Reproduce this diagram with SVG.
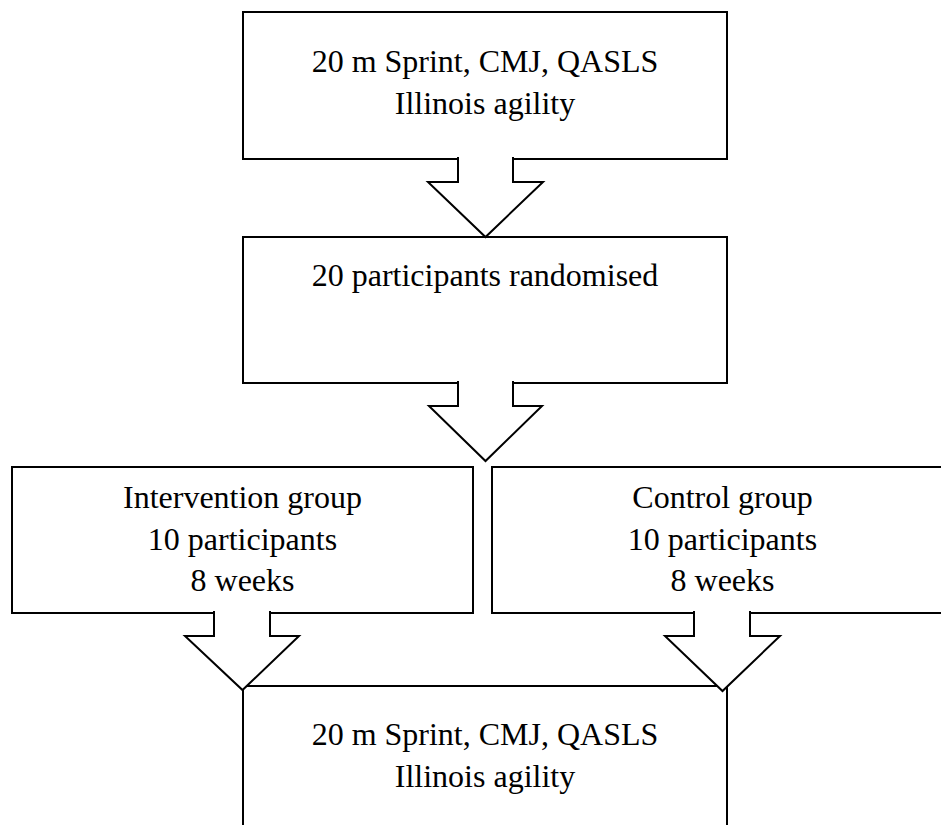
<svg xmlns="http://www.w3.org/2000/svg" width="941" height="825" viewBox="0 0 941 825">
  <style>
    .box { fill: #ffffff; stroke: #000000; stroke-width: 2; }
    .arrow { fill: #ffffff; stroke: #000000; stroke-width: 2; stroke-linejoin: miter; }
    .label { font-family: "Liberation Serif", "Times New Roman", serif; font-size: 32px; fill: #000000; text-anchor: middle; }
  </style>
  <rect x="0" y="0" width="941" height="825" fill="#ffffff"/>
  <g id="node-baseline-tests">
    <rect class="box" x="243" y="12" width="484" height="147"/>
    <text class="label" x="485" y="72">20 m Sprint, CMJ, QASLS</text>
    <text class="label" x="485" y="114">Illinois agility</text>
  </g>
  <g id="node-randomised">
    <rect class="box" x="243" y="237" width="484" height="146"/>
    <text class="label" x="485" y="286">20 participants randomised</text>
  </g>
  <g id="node-intervention">
    <rect class="box" x="12" y="467" width="461" height="146"/>
    <text class="label" x="242.5" y="508">Intervention group</text>
    <text class="label" x="242.5" y="549.5">10 participants</text>
    <text class="label" x="242.5" y="591">8 weeks</text>
  </g>
  <g id="node-control">
    <rect class="box" x="492" y="467" width="461" height="146"/>
    <text class="label" x="722.5" y="508">Control group</text>
    <text class="label" x="722.5" y="549.5">10 participants</text>
    <text class="label" x="722.5" y="591">8 weeks</text>
  </g>
  <g id="node-followup-tests">
    <rect class="box" x="243" y="686" width="484" height="160"/>
    <text class="label" x="485" y="745">20 m Sprint, CMJ, QASLS</text>
    <text class="label" x="485" y="787">Illinois agility</text>
  </g>
  <g id="connectors">
    <path class="arrow" d="M458,157 V182 H428 L485.5,237 L543,182 H513 V157"/>
    <path class="arrow" d="M458,381 V406 H429 L485.5,461 L542,406 H513 V381"/>
    <path class="arrow" d="M214,611 V636 H185 L242.5,690 L299,636 H270 V611"/>
    <path class="arrow" d="M694,611 V636 H665 L722.5,691 L780,636 H750 V611"/>
  </g>
</svg>
